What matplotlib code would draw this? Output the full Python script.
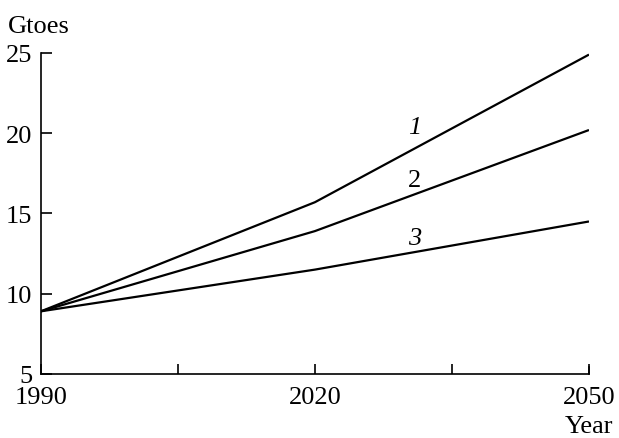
import matplotlib
matplotlib.use('Agg')
import matplotlib.pyplot as plt

# Energy consumption scenarios, Gtoe
years = [1990, 2020, 2050]
scenario_1 = [8.9, 15.7, 24.9]
scenario_2 = [8.9, 13.9, 20.2]
scenario_3 = [8.9, 11.5, 14.5]
curve_labels = ['1', '2', '3']
label_style = ['italic', 'normal', 'italic']
label_pos = [(2030.9, 20.4), (2030.9, 17.1), (2030.9, 13.5)]

plt.rcParams['font.family'] = ['Liberation Serif', 'DejaVu Serif']
plt.rcParams['font.size'] = 19

fig = plt.figure(figsize=(6.19, 4.39), dpi=100)
ax = fig.add_axes([0.066, 0.146, 0.8855, 0.731])

# Draw the three scenario curves
for series in (scenario_1, scenario_2, scenario_3):
    ax.plot(years, series, color='black', lw=1.6, solid_capstyle='butt')

for text, style, (x, y) in zip(curve_labels, label_style, label_pos):
    ax.text(x, y, text, fontsize=19, style=style, ha='center', va='center')

ax.set_xlim(1990, 2050)
ax.set_ylim(5, 25)
ax.set_xticks([1990, 2020, 2050])
ax.set_xticks([2005, 2035], minor=True)
ax.set_yticks([5, 10, 15, 20, 25])

for side in ('top', 'right'):
    ax.spines[side].set_visible(False)
for side in ('left', 'bottom'):
    ax.spines[side].set_linewidth(1.2)

ax.tick_params(axis='both', which='both', direction='in', width=1.2,
               color='black', labelsize=19)
ax.tick_params(axis='y', length=8, pad=6)
ax.tick_params(axis='x', which='major', length=7, pad=9)
ax.tick_params(axis='x', which='minor', length=7)

# Lift the bottom y label clear of the year labels
ax.get_yticklabels()[0].set_y(5.4)
ax.get_xticklabels()[0].set_x(1990.6)

# End tick at the right edge of the x axis
ax.plot([2050, 2050], [5, 5.45], color='black', lw=1.2, clip_on=False)

ax.text(-0.06, 1.085, 'Gtoes', transform=ax.transAxes, fontsize=19,
        ha='left', va='center')
ax.text(1.0, -0.163, 'Year', transform=ax.transAxes, fontsize=19,
        ha='center', va='center')

fig.savefig('out.png', dpi=100)
